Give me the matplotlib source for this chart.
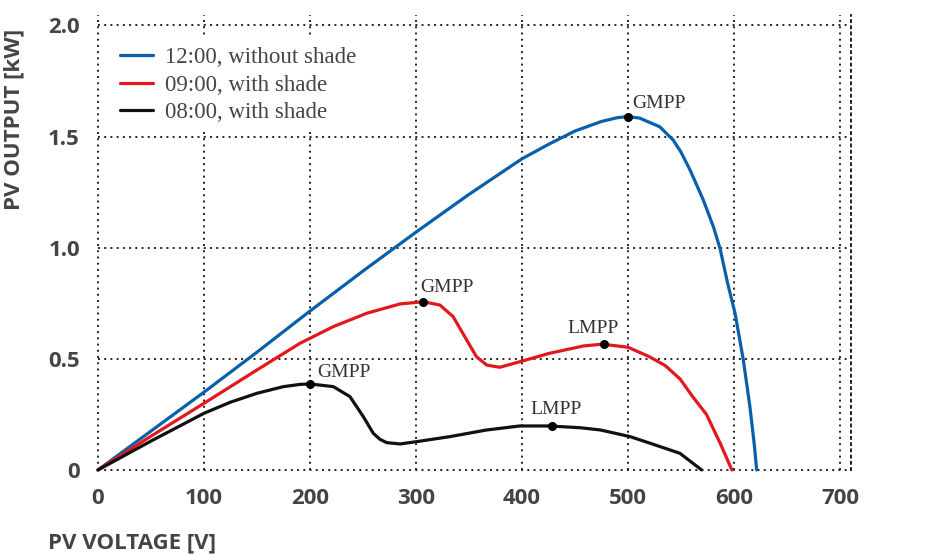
import matplotlib
matplotlib.use("Agg")
import matplotlib.pyplot as plt

# PV power curves (voltage in V, power in kW)
v_noon = [0, 50, 100, 150, 200, 250, 300, 350, 400, 425, 450, 475, 490, 500, 511,
          530, 542.7, 550, 558.5, 571, 580.5, 586.8, 594, 601, 608.8, 615, 619, 621.4]
p_noon = [0, 0.175, 0.35, 0.53, 0.715, 0.895, 1.07, 1.24, 1.40, 1.465, 1.525, 1.568,
          1.585, 1.59, 1.583, 1.544, 1.484, 1.43, 1.35, 1.215, 1.095, 0.997, 0.84,
          0.705, 0.495, 0.285, 0.12, 0]

v_nine = [0, 50, 100, 150, 190.6, 222, 253.5, 285, 307, 322.6, 335, 347.8, 357,
          366.7, 379, 398, 426, 458, 476, 500, 520, 535, 549, 561, 574, 587, 598]
p_nine = [0, 0.152, 0.30, 0.45, 0.57, 0.645, 0.705, 0.747, 0.757, 0.742, 0.69, 0.585,
          0.51, 0.472, 0.462, 0.487, 0.525, 0.558, 0.566, 0.552, 0.51, 0.47, 0.41,
          0.33, 0.25, 0.12, 0]

v_eight = [0, 50, 100, 125, 150, 175, 190.6, 200, 222, 237.7, 250.3, 259.7, 266,
           272.4, 285, 300, 332, 366.7, 398, 426, 455, 474, 502, 521, 549, 569.5]
p_eight = [0, 0.13, 0.255, 0.305, 0.345, 0.375, 0.385, 0.387, 0.375, 0.33, 0.24,
           0.165, 0.138, 0.123, 0.117, 0.127, 0.15, 0.18, 0.198, 0.198, 0.19, 0.18,
           0.15, 0.12, 0.075, 0]

# marked power points
mpp_v = [500, 307, 477, 200, 428]
mpp_p = [1.59, 0.757, 0.566, 0.387, 0.198]
mpp_label = ["GMPP", "GMPP", "LMPP", "GMPP", "LMPP"]
label_v = [504, 304, 443, 207, 408]
label_p = [1.65, 0.82, 0.635, 0.44, 0.27]

x_ticks = [0, 100, 200, 300, 400, 500, 600, 700]
y_ticks = [0, 0.5, 1.0, 1.5, 2.0]
y_tick_labels = ["0", "0.5", "1.0", "1.5", "2.0"]

blue = "#0a5fab"
red = "#e2181d"
black = "#111111"
grey = "#444444"
serif = ["Liberation Serif", "DejaVu Serif"]
sans = ["Open Sans", "DejaVu Sans"]

fig = plt.figure(figsize=(9.52, 5.55), dpi=100)
ax = fig.add_axes([0.1029, 0.1532, 0.7906, 0.819])

line_kw = dict(lw=2.3, clip_on=False, zorder=3, solid_joinstyle="round",
               solid_capstyle="round")
ax.plot(v_noon, p_noon, color=blue, label="12:00, without shade", **line_kw)
ax.plot(v_nine, p_nine, color=red, label="09:00, with shade", **line_kw)
ax.plot(v_eight, p_eight, color=black, label="08:00, with shade", **line_kw)

ax.scatter(mpp_v, mpp_p, s=30, color="black", zorder=4)
for lv, lp, t in zip(label_v, label_p, mpp_label):
    ax.text(lv, lp, t, family=serif, fontsize=14, color="#333333", va="center",
            ha="left")

ax.set_xlim(0, 710)
ax.set_ylim(0, 2.045)
ax.set_xticks(x_ticks)
ax.set_yticks(y_ticks)
ax.set_yticklabels(y_tick_labels)
for lab in ax.get_xticklabels() + ax.get_yticklabels():
    lab.set_family(sans)
    lab.set_fontweight("bold")
    lab.set_fontsize(16)
    lab.set_color(grey)
ax.tick_params(length=0, pad=13)

dots = (0, (1, 2.2))
ax.grid(True, color="#222222", lw=1.4, linestyle=dots)
for gl in ax.get_xgridlines() + ax.get_ygridlines():
    gl.set_clip_on(False)
for side in ["top", "left", "bottom"]:
    ax.spines[side].set_visible(False)
ax.spines["right"].set_linestyle(dots)
ax.spines["right"].set_linewidth(1.4)
ax.spines["right"].set_color("#222222")
ax.set_axisbelow(True)

leg = ax.legend(loc="upper left", bbox_to_anchor=(0.0173, 0.95), frameon=True,
                facecolor="white", edgecolor="none", framealpha=1, fancybox=False,
                prop={"family": serif, "size": 16.5}, handlelength=1.45,
                handletextpad=0.5, labelspacing=0.28, borderpad=0.4,
                borderaxespad=0)
for t in leg.get_texts():
    t.set_color(grey)

fig.text(48 / 952, 1 - 543 / 555, "PV VOLTAGE [V]", family=sans, fontweight="bold",
         fontsize=16, color=grey, ha="left", va="center")
fig.text(14 / 952, 1 - 119 / 555, "PV OUTPUT [kW]", family=sans, fontweight="bold",
         fontsize=16, color=grey, ha="center", va="center", rotation=90)

fig.savefig("out.png", dpi=100)
